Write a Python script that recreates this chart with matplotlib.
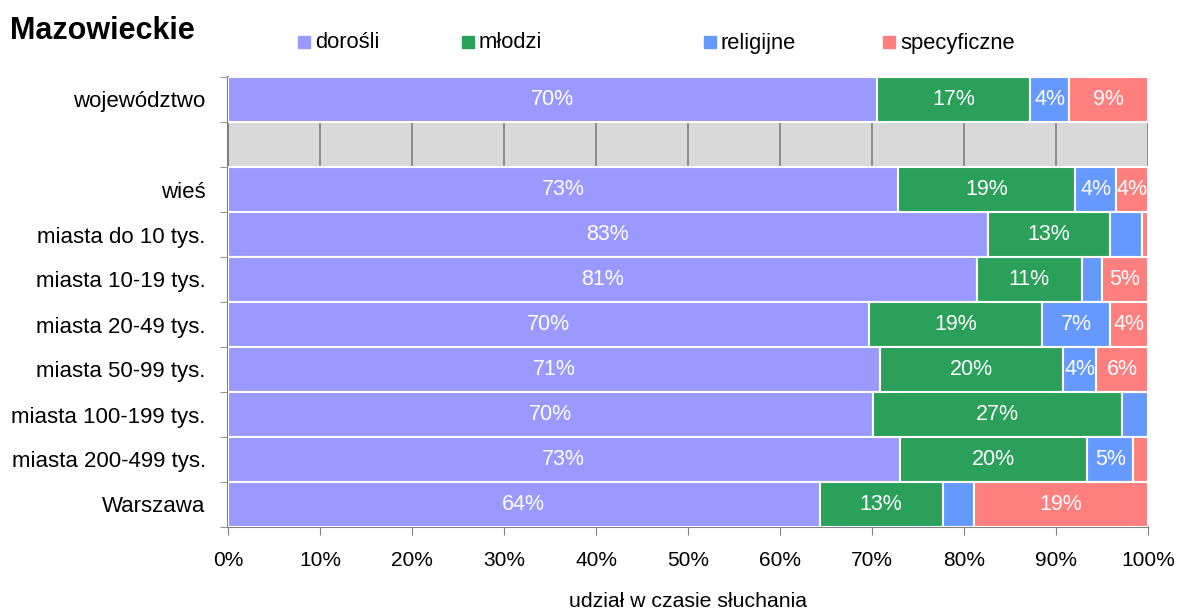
import matplotlib
matplotlib.use("Agg")
import matplotlib.pyplot as plt
from matplotlib.patches import Rectangle
import numpy as np

plt.rcParams['font.family'] = ['Liberation Sans', 'DejaVu Sans']

categories = ["województwo", "", "wieś", "miasta do 10 tys.", "miasta 10-19 tys.",
              "miasta 20-49 tys.", "miasta 50-99 tys.", "miasta 100-199 tys.",
              "miasta 200-499 tys.", "Warszawa"]
series_names = ["dorośli", "młodzi", "religijne", "specyficzne"]
dorosli     = [70.5, None, 72.8, 82.6, 81.4, 69.7, 70.9, 70.1, 73.0, 64.3]
mlodzi      = [16.7, None, 19.3, 13.3, 11.4, 18.8, 19.9, 27.1, 20.4, 13.4]
religijne   = [4.2,  None, 4.4,  3.4,  2.2,  7.4,  3.6,  2.8,  5.0,  3.4]
specyficzne = [8.6,  None, 3.5,  0.7,  5.0,  4.1,  5.6,  0.0,  1.6,  18.9]
colors = ["#9999ff", "#2aa05a", "#6699ff", "#ff7f7f"]

fig = plt.figure(figsize=(11.84, 6.12), dpi=100)
ax = fig.add_axes([228/1184, 1-527/612, 920/1184, 450/612])
ax.set_facecolor("#d9d9d9")

series = [dorosli, mlodzi, religijne, specyficzne]
n = len(categories)
left = np.zeros(n)
for vals, col in zip(series, colors):
    for i, v in enumerate(vals):
        if v is None:
            continue
        ax.barh(i, v, left=left[i], height=1.0, color=col, edgecolor="white",
                linewidth=1.5, zorder=3)
        if round(v) >= 4:
            ax.text(left[i] + v/2, i, f"{round(v)}%", ha="center", va="center",
                    color="white", fontsize=15.5, zorder=4)
        left[i] += v

ax.set_xlim(0, 100)
ax.set_ylim(n - 0.5, -0.5)
ax.set_xticks(np.arange(0, 101, 10))
ax.set_xticklabels([f"{t}%" for t in range(0, 101, 10)], fontsize=15)
ax.set_yticks(np.arange(n))
ax.set_yticklabels(categories, fontsize=16)
ax.set_yticks(np.arange(-0.5, n, 1.0), minor=True)
ax.tick_params(axis="y", which="major", length=0, pad=16)
ax.tick_params(axis="y", which="minor", length=6, color="#808080", direction="out")
ax.tick_params(axis="x", length=6, color="#808080", direction="out", pad=11)
ax.grid(axis="x", color="#808080", linewidth=1.2, zorder=1)
ax.set_axisbelow(True)
for s in ["top", "right"]:
    ax.spines[s].set_visible(False)
for s in ["left", "bottom"]:
    ax.spines[s].set_color("#808080")
    ax.spines[s].set_linewidth(1.5)
ax.set_xlabel("udział w czasie słuchania", fontsize=15.3, labelpad=16)

fig.text(10/1184, 1-31/612, "Mazowieckie", fontsize=22, fontweight="bold",
         va="center", ha="left")

leg_sq = [298, 462, 704, 883]
for xs, name, col in zip(leg_sq, series_names, colors):
    fig.add_artist(Rectangle((xs/1184, 1-48/612), 12/1184, 12/612,
                             transform=fig.transFigure, color=col))
    fig.text((xs+17)/1184, 1-43/612, name, fontsize=15.8, va="center", ha="left")

fig.savefig("out.png", dpi=100)
